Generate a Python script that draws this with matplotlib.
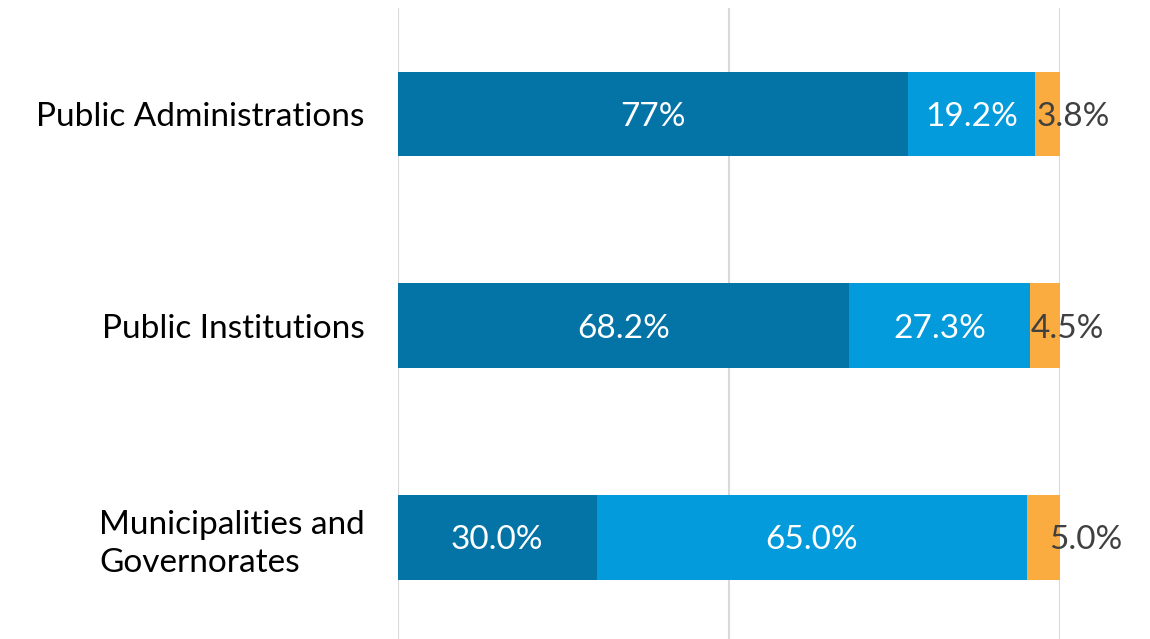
import matplotlib
matplotlib.use('Agg')
import matplotlib.pyplot as plt
import numpy as np

plt.rcParams['font.family'] = ['Lato', 'DejaVu Sans']

categories = ['Public Administrations', 'Public Institutions',
              'Municipalities and\nGovernorates']
part_a = [77.0, 68.2, 30.0]
part_b = [19.2, 27.3, 65.0]
part_c = [3.8, 4.5, 5.0]
labels_a = ['77%', '68.2%', '30.0%']
labels_b = ['19.2%', '27.3%', '65.0%']
labels_c = ['3.8%', '4.5%', '5.0%']

colors = ['#0474A7', '#039BDB', '#FBAC41']
# small horizontal nudge (in %) for the orange labels
nudge_c = [0.3, 0.0, 3.3]

fig = plt.figure(figsize=(11.5, 6.39), dpi=100)
ax = fig.add_axes([398 / 1150, 0.0, 662 / 1150, 1 - 8 / 639])

y = np.arange(len(categories))
h = 0.40
left = np.zeros(len(categories))
for vals, col in zip([part_a, part_b, part_c], colors):
    ax.barh(y, vals, left=left, height=h, color=col, edgecolor='none', zorder=2)
    left = left + np.array(vals)

fs = 24
for i in range(len(categories)):
    ax.text(part_a[i] / 2, y[i], labels_a[i], ha='center', va='center_baseline',
            color='white', fontsize=fs)
    ax.text(part_a[i] + part_b[i] / 2, y[i], labels_b[i], ha='center',
            va='center_baseline', color='white', fontsize=fs)
    ax.text(part_a[i] + part_b[i] + nudge_c[i], y[i], labels_c[i], ha='left',
            va='center_baseline', color='#404040', fontsize=fs, zorder=3)

ax.set_xlim(0, 100)
ax.set_ylim(2.48, -0.5)
ax.set_xticks([0, 50, 100])
ax.set_xticklabels([])
ax.tick_params(axis='x', length=0)
ax.grid(axis='x', color='#D9D9D9', linewidth=1.5, zorder=0)
ax.set_yticks(y)
ax.set_yticklabels(categories, fontsize=fs, ha='right')
for t in ax.get_yticklabels():
    t.set_multialignment('left')
    t.set_linespacing(1.3)
ax.tick_params(axis='y', length=0, pad=24)
for s in ax.spines.values():
    s.set_visible(False)

plt.savefig('out.png', dpi=100)
